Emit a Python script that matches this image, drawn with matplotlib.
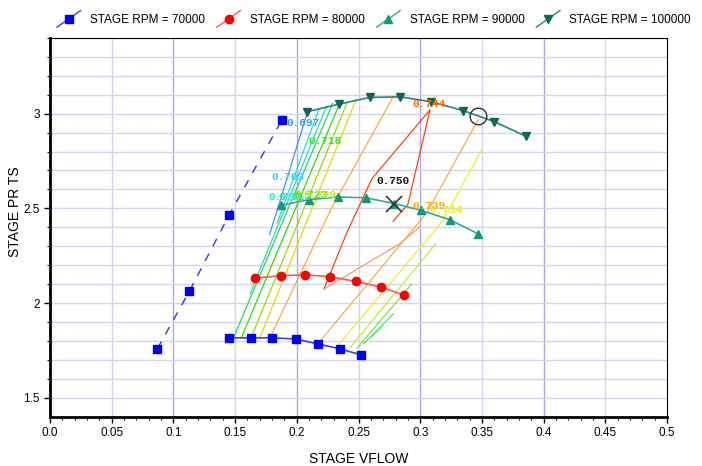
import numpy as np
import matplotlib
matplotlib.use("Agg")
import matplotlib.pyplot as plt
from matplotlib.lines import Line2D
from matplotlib.legend_handler import HandlerBase

# speed lines
x70 = [0.145, 0.163, 0.180, 0.199, 0.217, 0.235, 0.252]
y70 = [1.816, 1.816, 1.816, 1.810, 1.784, 1.758, 1.726]
x70_surge = [0.087, 0.113, 0.145, 0.188]
y70_surge = [1.758, 2.063, 2.463, 2.968]
x80 = [0.166, 0.187, 0.207, 0.227, 0.248, 0.268, 0.287]
y80 = [2.132, 2.144, 2.149, 2.139, 2.114, 2.084, 2.042]
x90 = [0.187, 0.210, 0.233, 0.256, 0.279, 0.301, 0.324, 0.347]
y90 = [2.516, 2.546, 2.560, 2.556, 2.525, 2.489, 2.440, 2.365]
x100 = [0.208, 0.234, 0.259, 0.284, 0.309, 0.335, 0.360, 0.386]
y100 = [3.010, 3.050, 3.086, 3.089, 3.063, 3.016, 2.958, 2.880]

# efficiency contours (x list, y list)
cont_x = [
    [0.178, 0.208], [0.184, 0.218], [0.162, 0.224], [0.149, 0.229],
    [0.155, 0.235], [0.163, 0.241], [0.170, 0.248], [0.179, 0.228, 0.278],
    [0.217, 0.305, 0.347], [0.231, 0.318, 0.350], [0.243, 0.313],
    [0.249, 0.293], [0.254, 0.278], [0.260, 0.270],
    [0.222, 0.241, 0.261, 0.308, 0.290, 0.278],
    [0.222, 0.283, 0.300],
]
cont_y = [
    [2.363, 2.995], [2.421, 3.026], [2.047, 3.037], [1.821, 3.053],
    [1.816, 3.058], [1.816, 3.063], [1.816, 3.074], [1.826, 2.500, 3.089],
    [1.784, 2.474, 2.968], [1.758, 2.432, 2.811], [1.763, 2.316],
    [1.763, 2.100], [1.784, 1.942], [1.816, 1.879],
    [2.074, 2.379, 2.658, 3.021, 2.521, 2.432],
    [2.074, 2.311, 2.405],
]
cont_col = ["#3399ff", "#22dddd", "#33ddaa", "#22dd55", "#33dd00", "#99dd00",
            "#dddd00", "#ffaa33", "#ffaa44", "#eeee22", "#bbee33", "#88dd44",
            "#66dd66", "#77eebb", "#ff4400", "#ff9966"]

lab_txt = ["0.697", "0.718", "0.703", "0.708", "0.713", "0.723", "0.729",
           "0.750", "0.744", "0.739", "0.734"]
lab_x = [0.1916, 0.2094, 0.1791, 0.1769, 0.1850, 0.1980, 0.2050,
         0.2646, 0.2938, 0.2938, 0.3076]
lab_y = [2.953, 2.858, 2.665, 2.558, 2.560, 2.568, 2.568,
         2.642, 3.053, 2.511, 2.489]
lab_col = ["#3399ff", "#22ee22", "#33ccff", "#22eedd", "#33ddaa", "#66ee00",
           "#bbee00", "#111111", "#ff6600", "#ffaa00", "#eeee00"]

best_x, best_y = 0.279, 2.525
circ_x, circ_y = 0.3468, 2.988

fig = plt.figure(figsize=(7.02, 4.66), dpi=100)
ax = fig.add_axes([0.0712, 0.106, 0.879, 0.8125])
ax.set_xlim(0, 0.5)
ax.set_ylim(1.4, 3.4)

# grid
ax.set_xticks(np.arange(0, 0.501, 0.05))
ax.set_xticks(np.arange(0, 0.501, 0.01), minor=True)
ax.set_yticks([1.5, 2, 2.5, 3])
ax.set_yticks(np.arange(1.5, 3.41, 0.1), minor=True)
for v in np.arange(0.05, 0.5, 0.05):
    c = "#a8a8ee" if round(v / 0.05) % 2 == 0 else "#d4d4ee"
    ax.axvline(v, color=c, lw=1, zorder=0)
for v in np.arange(1.5, 3.41, 0.1):
    ax.axhline(v, color="#d4d4ee", lw=1, zorder=0)

ax.set_xticklabels(["0.0", "0.05", "0.1", "0.15", "0.2", "0.25", "0.3",
                    "0.35", "0.4", "0.45", "0.5"])
ax.set_yticklabels(["1.5", "2", "2.5", "3"])

for xs, ys, c in zip(cont_x, cont_y, cont_col):
    ax.plot(xs, ys, color=c, lw=0.9, zorder=2)

ax.plot(x70_surge, y70_surge, color="#3333ee", lw=1, ls=(0, (6, 6)),
        marker="s", ms=6, mfc="#0000ff", mec="#0000ff", zorder=3)
ax.plot(x70, y70, color="#3344ee", lw=1.2, marker="s", ms=6,
        mfc="#0000ff", mec="#0000ff", zorder=3)
ax.plot(x80, y80, color="#ff5555", lw=1.2, marker="o", ms=6,
        mfc="#ff0000", mec="#ff0000", zorder=3)
ax.plot(x90, y90, color="#33aa99", lw=1.2, marker="^", ms=6,
        mfc="#119977", mec="#119977", zorder=3)
ax.plot(x100, y100, color="#2a8080", lw=1.2, marker="v", ms=6,
        mfc="#116655", mec="#116655", zorder=3)

ax.plot(best_x, best_y, marker="x", ms=11, mew=1.2, color="#333333", zorder=4)
ax.plot(circ_x, circ_y, marker="o", ms=12, mfc="none", mec="#333333",
        mew=1, zorder=4)

for t, x, y, c in zip(lab_txt, lab_x, lab_y, lab_col):
    ax.text(x, y, t, color=c, fontsize=8, fontweight="bold",
            family="Liberation Mono", ha="left", va="center", zorder=5)

ax.set_xlabel("STAGE VFLOW", fontsize=10, family="Liberation Sans", labelpad=9)
ax.set_ylabel("STAGE PR TS", fontsize=10, family="Liberation Sans")
ax.yaxis.set_label_coords(-0.046, 0.54)

for sp in ["left", "bottom"]:
    ax.spines[sp].set_linewidth(2)
for sp in ["top", "right"]:
    ax.spines[sp].set_linewidth(0.8)
ax.tick_params(axis="both", which="major", length=4, width=1, labelsize=8.5)
ax.tick_params(axis="both", which="minor", length=2, width=0.8)
for lab in ax.get_xticklabels() + ax.get_yticklabels():
    lab.set_family("Liberation Sans")


class DiagHandler(HandlerBase):
    def create_artists(self, legend, orig_handle, xdescent, ydescent, width,
                       height, fontsize, trans):
        x0, y0 = -xdescent, -ydescent
        ln = Line2D([x0, x0 + width], [y0 - 3, y0 + height + 3],
                    color=orig_handle.get_color(), lw=1, transform=trans)
        mk = Line2D([x0 + width / 2], [y0 + height / 2],
                    marker=orig_handle.get_marker(), ms=6, ls="none",
                    color=orig_handle.get_markerfacecolor(), transform=trans)
        return [ln, mk]


handles = [
    Line2D([], [], color="#3344ee", marker="s", mfc="#0000ff"),
    Line2D([], [], color="#ff5555", marker="o", mfc="#ff0000"),
    Line2D([], [], color="#33aa99", marker="^", mfc="#119977"),
    Line2D([], [], color="#2a8080", marker="v", mfc="#116655"),
]
labels = ["STAGE RPM = 70000", "STAGE RPM = 80000", "STAGE RPM = 90000",
          "STAGE RPM = 100000"]
fig.legend(handles, labels, handler_map={Line2D: DiagHandler()},
           loc="center left", bbox_to_anchor=(0.066, 0.957), ncol=4,
           frameon=False, handlelength=2.0, columnspacing=1.0,
           handletextpad=0.8, prop={"family": "Liberation Sans", "size": 8.5})

fig.savefig("out.png", dpi=100)
